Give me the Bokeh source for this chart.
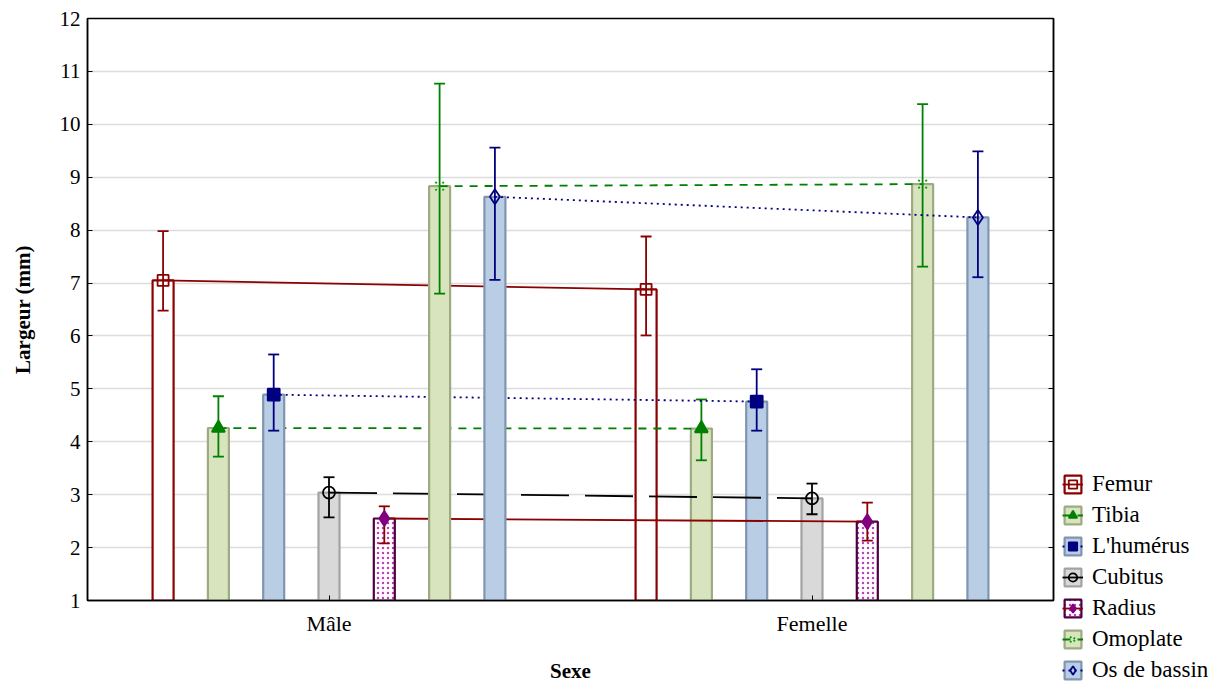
from bokeh.plotting import figure
from bokeh.layouts import row
from bokeh.models import (ColumnDataSource, FactorRange, Range1d, LinearAxis, Legend, LegendItem,
                          FixedTicker)
from bokeh.transform import dodge
from bokeh.embed import file_html
from bokeh.resources import INLINE

sexes = ["Mâle", "Femelle"]
series = ["Femur", "Tibia", "L'humérus", "Cubitus", "Radius", "Omoplate", "Os de bassin"]
means = {
    "Femur":        [7.05, 6.88],
    "Tibia":        [4.26, 4.25],
    "L'humérus":    [4.89, 4.76],
    "Cubitus":      [3.04, 2.93],
    "Radius":       [2.55, 2.49],
    "Omoplate":     [8.83, 8.87],
    "Os de bassin": [8.63, 8.24],
}
uppers = {
    "Femur":        [7.98, 7.88],
    "Tibia":        [4.86, 4.80],
    "L'humérus":    [5.65, 5.37],
    "Cubitus":      [3.33, 3.21],
    "Radius":       [2.78, 2.85],
    "Omoplate":     [10.77, 10.38],
    "Os de bassin": [9.56, 9.49],
}
lowers = {
    "Femur":        [6.48, 6.01],
    "Tibia":        [3.72, 3.65],
    "L'humérus":    [4.21, 4.21],
    "Cubitus":      [2.57, 2.63],
    "Radius":       [2.08, 2.13],
    "Omoplate":     [6.80, 7.31],
    "Os de bassin": [7.06, 7.11],
}
y_ticks = list(range(1, 13))

styles = {
    "Femur":        dict(fill="white", outline="#8B0000", err="#8B0000", line="#8B0000", dash="solid",
                         marker="square", mfill=None, mline="#8B0000", msize=11, mdash="solid", hatch=None),
    "Tibia":        dict(fill="#D7E4BD", outline="#9DAA82", err="#008000", line="#008000", dash="8 7",
                         marker="triangle", mfill="#008000", mline="#008000", msize=13, mdash="solid", hatch=None),
    "L'humérus":    dict(fill="#B9CDE5", outline="#7F95B0", err="#000080", line="#000080", dash="2 4",
                         marker="square", mfill="#000080", mline="#000080", msize=12, mdash="solid", hatch=None),
    "Cubitus":      dict(fill="#D9D9D9", outline="#A3A3A3", err="#000000", line="#000000", dash="48 16",
                         marker="circle", mfill=None, mline="#000000", msize=12, mdash="solid", hatch=None),
    "Radius":       dict(fill="white", outline="#4D0040", err="#8B0000", line="#8B0000", dash="solid",
                         marker="diamond", mfill="#800080", mline="#800080", msize=15, mdash="solid", hatch="dot"),
    "Omoplate":     dict(fill="#D7E4BD", outline="#9DAA82", err="#008000", line="#008000", dash="8 7",
                         marker="x", mfill=None, mline="#00A000", msize=12, mdash="2 3", hatch=None),
    "Os de bassin": dict(fill="#B9CDE5", outline="#7F95B0", err="#000080", line="#000080", dash="2 4",
                         marker="diamond", mfill=None, mline="#000080", msize=15, mdash="solid", hatch=None),
}

FONT = "Liberation Serif"
step = 0.1145
bar_w = 0.0435

p = figure(frame_width=966, frame_height=582, x_range=FactorRange(*sexes, range_padding=0),
           y_range=Range1d(1, 12), output_backend="svg", toolbar_location=None,
           min_border_left=87, min_border_right=7, min_border_top=18, min_border_bottom=84)

p.xgrid.grid_line_color = None
p.ygrid.grid_line_color = "#DCDCDC"
p.ygrid.grid_line_width = 1.5
p.yaxis.ticker = FixedTicker(ticks=y_ticks)
p.outline_line_color = "black"
p.outline_line_width = 1.5
p.outline_line_alpha = 1

for ax in [p.xaxis[0], p.yaxis[0]]:
    ax.axis_line_color = "black"
    ax.axis_line_width = 1.5
    ax.major_tick_in = 5
    ax.major_tick_out = 0
    ax.minor_tick_line_color = None
    ax.major_tick_line_color = "black"
    ax.major_label_text_font = FONT
    ax.major_label_text_color = "black"
    ax.axis_label_text_font = FONT
    ax.axis_label_text_font_size = "21px"
    ax.axis_label_text_font_style = "bold"
    ax.axis_label_text_color = "black"

p.xaxis.major_label_text_font_size = "22px"
p.yaxis.major_label_text_font_size = "21px"
p.yaxis.axis_label = "Largeur (mm)"
p.xaxis.axis_label = "Sexe"
p.xaxis.major_label_standoff = 10
p.xaxis.axis_label_standoff = 20
p.yaxis.major_label_standoff = 7
p.yaxis.axis_label_standoff = 22

# legend-only figure: hidden proxy renderers carrying the same styles
lg = figure(width=172, height=684, x_range=p.x_range, y_range=Range1d(50, 51),
            output_backend="svg", toolbar_location=None, x_axis_location=None, y_axis_location=None,
            min_border=0, outline_line_color=None)
lg.xgrid.grid_line_color = None
lg.ygrid.grid_line_color = None
for fig in (p, lg):
    if "frame_align" in fig.properties():
        fig.frame_align = False

items = []
for i, s in enumerate(series):
    st = styles[s]
    src = ColumnDataSource(dict(sex=sexes, mean=means[s], upper=uppers[s], lower=lowers[s]))
    off = (i - 3) * step
    xs = dodge("sex", off, range=p.x_range)
    kw = dict(fill_color=st["fill"], line_color=st["outline"], line_width=2.2)
    if st["hatch"]:
        kw.update(hatch_pattern="dot", hatch_color="#C040C0", hatch_scale=5, hatch_weight=1.5)
    p.vbar(x=xs, top="mean", bottom=1, width=bar_w, source=src, **kw)
    p.line(x=xs, y="mean", source=src, line_color=st["line"], line_width=1.8, line_dash=st["dash"])
    p.segment(x0=xs, y0="lower", x1=xs, y1="upper", source=src, line_color=st["err"], line_width=1.8)
    p.scatter(x=xs, y="upper", source=src, marker="dash", size=11, line_color=st["err"], line_width=1.8)
    p.scatter(x=xs, y="lower", source=src, marker="dash", size=11, line_color=st["err"], line_width=1.8)
    p.scatter(x=xs, y="mean", source=src, marker=st["marker"], size=st["msize"],
              fill_color=st["mfill"], line_color=st["mline"], line_width=1.8, line_dash=st["mdash"])

    b2 = lg.vbar(x=xs, top="mean", bottom=1, width=bar_w, source=src, visible=False, **kw)
    l2 = lg.line(x=xs, y="mean", source=src, line_color=st["line"], line_width=1.8,
                 line_dash=st["dash"], visible=False)
    m2 = lg.scatter(x=xs, y="mean", source=src, marker=st["marker"], size=st["msize"],
                    fill_color=st["mfill"], line_color=st["mline"], line_width=1.8,
                    line_dash=st["mdash"], visible=False)
    items.append(LegendItem(label=s, renderers=[b2, l2, m2]))

rax = LinearAxis(ticker=FixedTicker(ticks=y_ticks),
                 major_label_overrides={t: "" for t in y_ticks})
rax.major_tick_in = 5
rax.major_tick_out = 0
rax.minor_tick_line_color = None
rax.axis_line_color = "black"
rax.axis_line_width = 1.5
rax.major_label_standoff = 0
p.add_layout(rax, "right")

legend = Legend(items=items, location=(2, 1))
legend.click_policy = "none"
legend.label_text_font = FONT
legend.label_text_font_size = "23px"
legend.label_text_color = "black"
legend.glyph_width = 21
legend.glyph_height = 22
legend.label_height = 22
legend.spacing = 5
legend.padding = 0
legend.margin = 0
legend.label_standoff = 9
legend.border_line_color = None
legend.background_fill_alpha = 0
lg.add_layout(legend)

layout = row(p, lg)
open("out.html", "w").write(file_html(layout, INLINE))
